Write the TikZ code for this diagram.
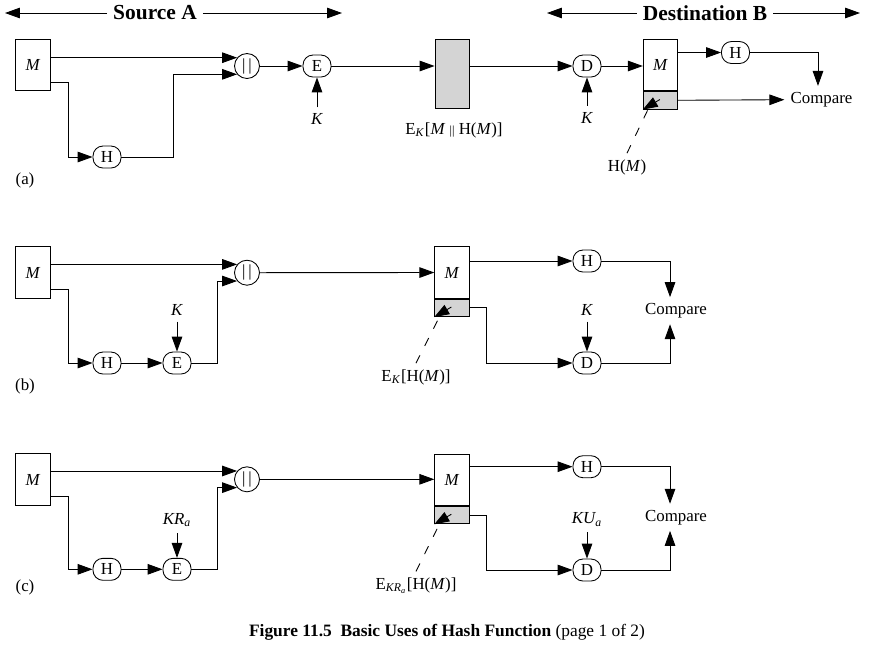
\documentclass[tikz,border=0pt]{standalone}
\usepackage{fontspec}
\setmainfont{Liberation Serif}
\usetikzlibrary{arrows.meta, positioning, calc}
\definecolor{hashgray}{RGB}{212,212,212}

\begin{document}
\begin{tikzpicture}[
    x=0.02cm, y=-0.02cm,
    font=\fontsize{9.6}{11}\selectfont,
    msgbox/.style={rectangle, draw, line width=0.5pt, minimum width=0.69cm, minimum height=1.03cm, inner sep=0pt},
    hashbox/.style={rectangle, draw, line width=0.5pt, fill=hashgray, minimum width=0.69cm, minimum height=0.35cm, inner sep=0pt},
    cipherbox/.style={rectangle, draw, line width=0.5pt, fill=hashgray, minimum width=0.68cm, minimum height=1.38cm},
    func/.style={rectangle, rounded corners=0.2cm, draw, line width=0.5pt, minimum width=0.56cm, minimum height=0.44cm, inner sep=0pt},
    concat/.style={circle, draw, line width=0.5pt, minimum size=0.5cm, inner sep=0pt},
    arrow/.style={-{Triangle[length=8.5pt, width=6pt]}, line width=0.5pt},
    dashline/.style={line width=0.5pt, dash pattern=on 5pt off 6pt},
    head/.style={font=\fontsize{12.2}{14}\selectfont\bfseries}
]

\useasboundingbox (0,0) rectangle (877,647);

% Headers
\node[head] (srcA) at (155,13) {Source A};
\coordinate (srcL) at (5,13);
\coordinate (srcR) at (342,13);
\draw[arrow] (srcA.west) -- (srcL);
\draw[arrow] (srcA.east) -- (srcR);

\node[head] (dstB) at (705,13) {Destination B};
\coordinate (dstL) at (547,13);
\coordinate (dstR) at (860,13);
\draw[arrow] (dstB.west) -- (dstL);
\draw[arrow] (dstB.east) -- (dstR);

% (a)
\node[msgbox] (srcMa) at (33,65) {\textit{M}};
\node[func] (hashA) at (107,157) {H};
\node[concat] (catA) at (247,66) {|\hspace{1.6pt}|};
\node[func] (encA) at (317,66) {E};
\node (keyEA) at (317,119) {\textit{K}};
\node[cipherbox] (cipherA) at (452,73.5) {};
\node (cipherLblA) at (454,130) {E\textsubscript{\textit{K}}[\textit{M} {\fontsize{7}{8}\selectfont||} H(\textit{M})]};
\node[func] (decA) at (587,66) {D};
\node (keyDA) at (587,117.5) {\textit{K}};
\node[msgbox] (dstMa) at (660.5,65) {\textit{M}};
\node[hashbox, below=0pt of dstMa] (dstHa) {};
\node[func] (hashDA) at (735.5,52.5) {H};
\node (cmpA) at (821.5,99.5) {Compare};
\node (hmLblA) at (627,167) {H(\textit{M})};
\node (lblA) at (25,180) {(a)};

\draw[arrow] (srcMa.east |- catA.140) -- (catA.140);
\draw[arrow] ([yshift=5pt]srcMa.south east) -- ++(18,0) |- (hashA);
\draw[arrow] (hashA.east) -- ++(52,0) |- (catA.220);
\draw[arrow] (catA) -- (encA);
\draw[arrow] (keyEA) -- (encA);
\draw[arrow] (encA) -- (encA -| cipherA.west);
\draw[arrow] (cipherA.east |- decA) -- (decA);
\draw[arrow] (keyDA) -- (decA);
\draw[arrow] (decA) -- (decA -| dstMa.west);
\draw[arrow] (dstMa.east |- hashDA) -- (hashDA);
\draw[arrow] (hashDA.east) -| ([xshift=-2pt]cmpA.north);
\draw[arrow] (dstHa) -- (cmpA);
\draw[dashline] (hmLblA.north) -- ($(dstHa.south west)+(8,-6)$);
\draw[arrow] ($(dstHa.south west)+(17,-10)$) -- (dstHa.south west);

% (b)
\node[msgbox] (srcMb) at (33,272.5) {\textit{M}};
\node[func] (hashB) at (107,363) {H};
\node[func] (encB) at (177,363) {E};
\node (keyEB) at (177,310) {\textit{K}};
\node[concat] (catB) at (247,272.7) {|\hspace{1.6pt}|};
\node[msgbox] (dstMb) at (452,272.5) {\textit{M}};
\node[hashbox, below=0pt of dstMb] (dstHb) {};
\node[func] (hashDB) at (587,261) {H};
\node[func] (decB) at (587,363) {D};
\node (keyDB) at (587,310) {\textit{K}};
\node (cmpB) at (676,310.7) {Compare};
\node (hmLblB) at (416,377) {E\textsubscript{\textit{K}}[H(\textit{M})]};
\node (lblB) at (25,386) {(b)};

\draw[arrow] (srcMb.east |- catB.140) -- (catB.140);
\draw[arrow] ([yshift=5pt]srcMb.south east) -- ++(18,0) |- (hashB);
\draw[arrow] (hashB) -- (encB);
\draw[arrow] (keyEB) -- (encB);
\draw[arrow] (encB.east) -- ++(26,0) |- (catB.220);
\draw[arrow] (catB) -- (dstMb);
\draw[arrow] (dstMb.east |- hashDB) -- (hashDB);
\draw[arrow] (hashDB.east) -| ([xshift=-3.4pt]cmpB.north);
\draw[arrow] (dstHb.east) -- ++(17,0) |- (decB);
\draw[arrow] (keyDB) -- (decB);
\draw[arrow] (decB.east) -| ([xshift=-3.4pt]cmpB.south);
\draw[dashline] (hmLblB.north) -- ($(dstHb.south west)+(8,-6)$);
\draw[arrow] ($(dstHb.south west)+(17,-10)$) -- (dstHb.south west);

% (c)
\node[msgbox] (srcMc) at (33,479.5) {\textit{M}};
\node[func] (hashC) at (107,569.3) {H};
\node[func] (encC) at (177,569.3) {E};
\node (keyEC) at (177,520) {\textit{KR\textsubscript{a}}};
\node[concat] (catC) at (247,479.3) {|\hspace{1.6pt}|};
\node[msgbox] (dstMc) at (452,479.7) {\textit{M}};
\node[hashbox, below=0pt of dstMc] (dstHc) {};
\node[func] (hashDC) at (587,466.7) {H};
\node[func] (decC) at (587,570) {D};
\node (keyDC) at (587,519.3) {\textit{KU\textsubscript{a}}};
\node (cmpC) at (676,517.3) {Compare};
\node (hmLblC) at (416,585.7) {E\textsubscript{\textit{KR\textsubscript{a}}}[H(\textit{M})]};
\node (lblC) at (25,587) {(c)};

\draw[arrow] (srcMc.east |- catC.140) -- (catC.140);
\draw[arrow] ([yshift=5pt]srcMc.south east) -- ++(18,0) |- (hashC);
\draw[arrow] (hashC) -- (encC);
\draw[arrow] (keyEC) -- (encC);
\draw[arrow] (encC.east) -- ++(26,0) |- (catC.220);
\draw[arrow] (catC) -- (catC -| dstMc.west);
\draw[arrow] (dstMc.east |- hashDC) -- (hashDC);
\draw[arrow] (hashDC.east) -| ([xshift=-3.4pt]cmpC.north);
\draw[arrow] (dstHc.east) -- ++(17,0) |- (decC);
\draw[arrow] (keyDC) -- (decC);
\draw[arrow] (decC.east) -| ([xshift=-3.4pt]cmpC.south);
\draw[dashline] (hmLblC.north) -- ($(dstHc.south west)+(8,-6)$);
\draw[arrow] ($(dstHc.south west)+(17,-10)$) -- (dstHc.south west);

% Caption
\node[font=\fontsize{9.9}{12}\selectfont] (caption) at (447,632) {\textbf{Figure 11.5\ \ Basic Uses of Hash Function} (page 1 of 2)};

\end{tikzpicture}
\end{document}
